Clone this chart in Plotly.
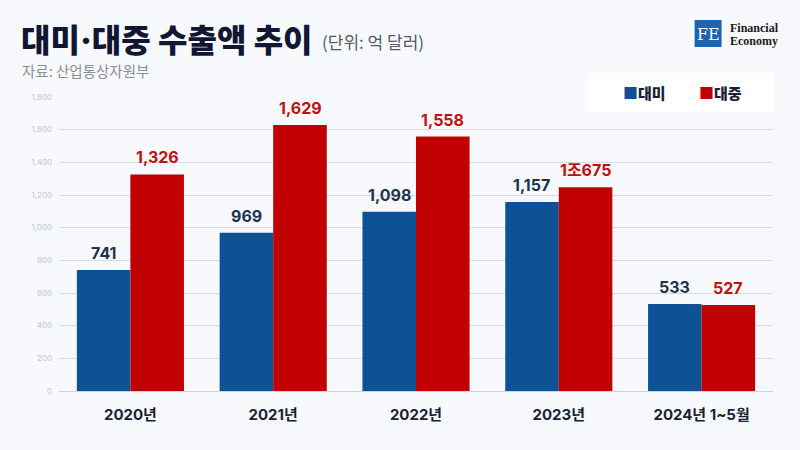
import plotly.graph_objects as go

categories = ["2020년", "2021년", "2022년", "2023년", "2024년 1~5월"]
us_values = [741, 969, 1098, 1157, 533]
china_values = [1326, 1629, 1558, 1248, 527]
us_labels = ["741", "969", "1,098", "1,157", "533"]
china_labels = ["1,326", "1,629", "1,558", "1조675", "527"]
y_ticks = [0, 200, 400, 600, 800, 1000, 1200, 1400, 1600, 1800]
y_tick_labels = ["0", "200", "400", "600", "800", "1,000", "1,200", "1,400", "1,600", "1,800"]

BLUE = "#0d5294"
RED = "#c00000"
BG = "#f7f9fd"
FONT = "Inter, Noto Sans CJK KR, sans-serif"
KFONT = "Noto Sans CJK KR, sans-serif"

W, H = 800, 450
L, R, T, B = 58.5, 26.5, 97, 59
PW, PH = W - L - R, H - T - B
BARGAP = 0.25
BAR_PX = PW / len(categories) * (1 - BARGAP) / 2

def px(xp):
    return (xp - L) / PW

def py(yp):
    return (H - B - yp) / PH

fig = go.Figure()
fig.add_trace(go.Bar(x=categories, y=us_values, name="대미", marker_color=BLUE,
                     marker_line_width=0, showlegend=False))
fig.add_trace(go.Bar(x=categories, y=china_values, name="대중", marker_color=RED,
                     marker_line_width=0, showlegend=False))

# value labels placed through the axes' scales
for cat, v, lab in zip(categories, us_values, us_labels):
    fig.add_annotation(x=cat, y=v, xref="x", yref="y", text=lab, showarrow=False,
                       xanchor="center", yanchor="bottom", xshift=-BAR_PX / 2, yshift=5,
                       font=dict(family=FONT, size=16, color="#1e3352", weight="bold"))
for cat, v, lab in zip(categories, china_values, china_labels):
    fig.add_annotation(x=cat, y=v, xref="x", yref="y", text=lab, showarrow=False,
                       xanchor="center", yanchor="bottom", xshift=BAR_PX / 2, yshift=5,
                       font=dict(family=FONT, size=16, color="#c01010", weight="bold"))

fig.update_layout(
    width=W, height=H,
    margin=dict(l=L, r=R, t=T, b=B),
    paper_bgcolor=BG, plot_bgcolor=BG,
    barmode="group", bargap=BARGAP, bargroupgap=0,
    font=dict(family=FONT),
    xaxis=dict(
        showgrid=False, showline=True, linecolor="#cfd3dc", linewidth=1,
        tickfont=dict(family=FONT, size=15, color="#1a1f36", weight="bold"),
        ticks="", ticklabelstandoff=10,
    ),
    yaxis=dict(
        range=[0, 1800], tickvals=y_ticks, ticktext=y_tick_labels,
        showgrid=True, gridcolor="#d8dbe3", gridwidth=1, zeroline=False,
        tickfont=dict(family=FONT, size=8, color="#c3c7cf"),
        ticks="", ticklabelstandoff=6,
    ),
)

# legend box
fig.add_shape(type="rect", xref="paper", yref="paper", layer="above",
              x0=px(588), x1=px(775), y0=py(112), y1=py(73),
              fillcolor="white", line=dict(width=0))
fig.add_annotation(xref="paper", yref="paper", x=px(621), y=py(92),
                   xanchor="left", yanchor="middle", showarrow=False,
                   text=f"<span style='color:{BLUE}'>■</span>대미",
                   font=dict(family=KFONT, size=15, color="#1a1f36", weight=900))
fig.add_annotation(xref="paper", yref="paper", x=px(697), y=py(92),
                   xanchor="left", yanchor="middle", showarrow=False,
                   text=f"<span style='color:{RED}'>■</span>대중",
                   font=dict(family=KFONT, size=15, color="#1a1f36", weight=900))

# title
fig.add_annotation(xref="paper", yref="paper", x=px(19), y=py(38),
                   xanchor="left", yanchor="middle", showarrow=False, borderpad=0,
                   text="대미<span style='font-family:Inter'>·</span>대중 수출액 추이",
                   font=dict(family=KFONT, size=32, color="#111633", weight=900))
fig.add_annotation(xref="paper", yref="paper", x=px(320), y=py(42),
                   xanchor="left", yanchor="middle", showarrow=False,
                   text="(단위: 억 달러)",
                   font=dict(family=KFONT, size=17, color="#555a66"))
fig.add_annotation(xref="paper", yref="paper", x=px(20), y=py(71),
                   xanchor="left", yanchor="middle", showarrow=False, borderpad=0,
                   text="자료: 산업통상자원부",
                   font=dict(family=KFONT, size=14.5, color="#8a8f99"))

# logo
fig.add_shape(type="rect", xref="paper", yref="paper", layer="above",
              x0=px(695), x1=px(722), y0=py(47), y1=py(20),
              fillcolor="#1a64b0", line=dict(width=0))
fig.add_annotation(xref="paper", yref="paper", x=px(708.5), y=py(34),
                   xanchor="center", yanchor="middle", showarrow=False,
                   text="FE", font=dict(family="DejaVu Serif, serif", size=16, color="white"))
fig.add_annotation(xref="paper", yref="paper", x=px(728), y=py(28),
                   xanchor="left", yanchor="middle", showarrow=False,
                   text="Financial", font=dict(family="Liberation Serif, serif", size=12, color="#1a1a1a", weight="bold"))
fig.add_annotation(xref="paper", yref="paper", x=px(728), y=py(41),
                   xanchor="left", yanchor="middle", showarrow=False,
                   text="Economy", font=dict(family="Liberation Serif, serif", size=12, color="#1a1a1a", weight="bold"))

fig.write_html("out.html", config={"displayModeBar": False},
               post_script="document.body.style.margin='0';document.body.style.overflow='hidden';")
